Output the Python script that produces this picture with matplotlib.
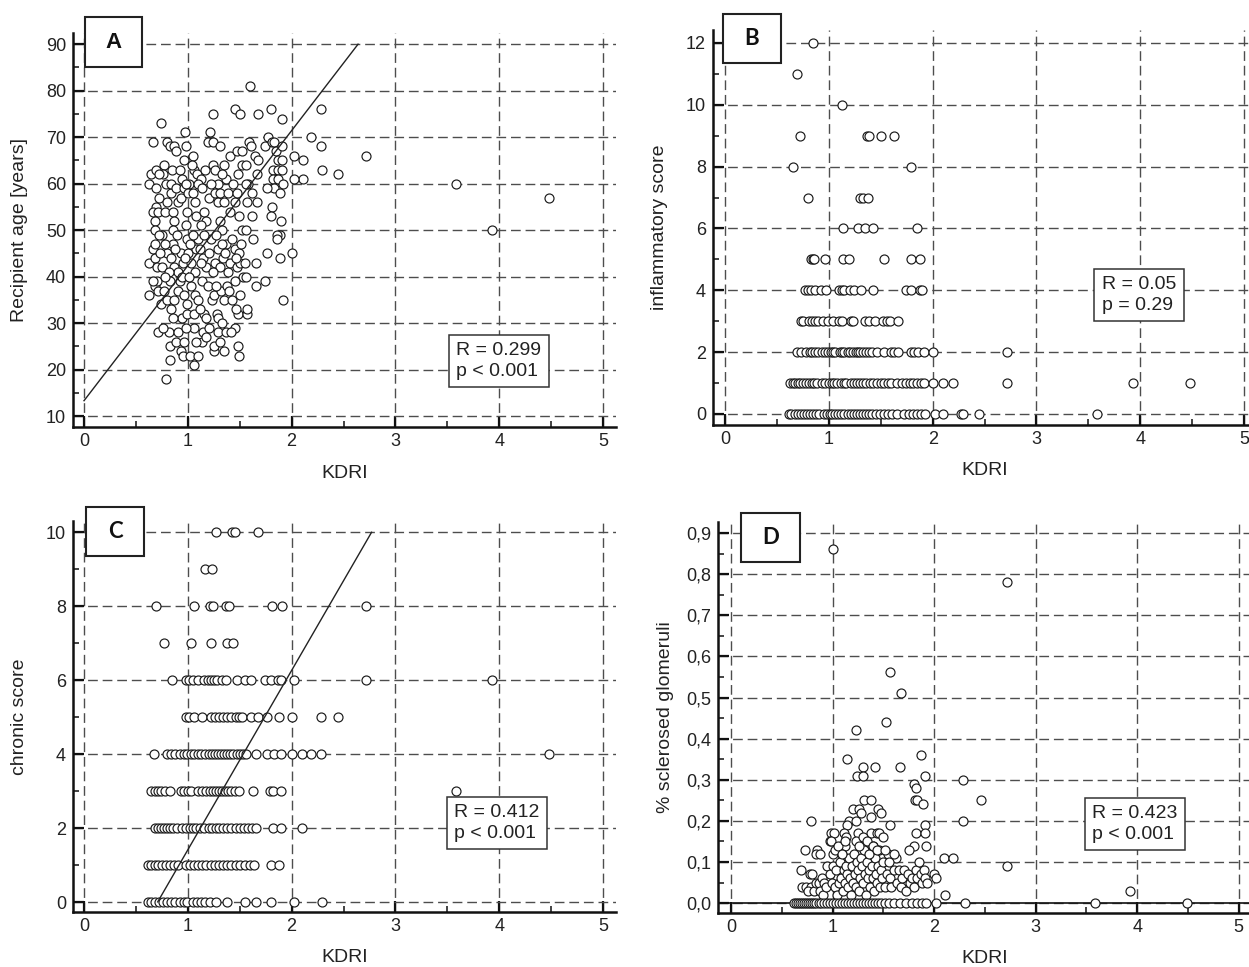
import matplotlib
matplotlib.use("Agg")
import matplotlib.pyplot as plt
from matplotlib.patches import Rectangle
from matplotlib.ticker import MultipleLocator, FuncFormatter

plt.rcParams["font.family"] = ["Liberation Sans", "DejaVu Sans"]

FIG_W, FIG_H = 1249, 967

# ==========================
# Data
# ==========================

# Panel A: KDRI vs recipient age, grouped by age band
a_outer = [(1.60, 81), (1.45, 76), (1.50, 75), (1.68, 75), (1.80, 76), (1.91, 74),
           (1.24, 75), (2.28, 76), (0.74, 73), (0.97, 71), (1.21, 71), (2.19, 70),
           (2.28, 68), (2.72, 66), (2.02, 66), (2.11, 65), (2.29, 63), (2.45, 62),
           (2.11, 61), (2.02, 61), (3.58, 60), (4.48, 57), (3.93, 50), (2.00, 45),
           (1.92, 35)]
a_band_60s = [(0.63, 60), (0.65, 62), (0.66, 69), (0.69, 63), (0.77, 64), (0.76, 62),
              (0.80, 69), (0.83, 68), (0.87, 68), (0.89, 67), (0.85, 63), (0.92, 63),
              (0.96, 65), (0.98, 68), (1.05, 66), (1.06, 63), (1.04, 64), (1.19, 69),
              (1.24, 69), (1.31, 68), (1.24, 64), (1.26, 63), (1.35, 64), (1.37, 61),
              (1.41, 66), (1.47, 67), (1.52, 67), (1.59, 69), (1.61, 68), (1.52, 64),
              (1.56, 64), (1.65, 66), (1.68, 65), (1.67, 62), (1.74, 68), (1.77, 70),
              (1.81, 69), (1.83, 69), (1.85, 67), (1.87, 65), (1.91, 65), (1.91, 68),
              (1.82, 63), (1.87, 63), (1.91, 63), (1.82, 61), (1.87, 61), (1.92, 60),
              (1.83, 59), (1.76, 59), (1.89, 58), (0.72, 62), (0.79, 60), (0.94, 61),
              (1.01, 60), (1.09, 62), (1.13, 61), (1.17, 63), (1.29, 60), (1.33, 62),
              (1.44, 60), (1.48, 62), (1.58, 60)]
a_band_50s = [(0.69, 59), (0.72, 57), (0.69, 55), (0.66, 54), (0.71, 54), (0.68, 52),
              (0.68, 50), (0.75, 49), (0.78, 54), (0.80, 56), (0.84, 58), (0.84, 60),
              (0.89, 59), (0.86, 54), (0.87, 52), (0.86, 50), (0.91, 56), (0.93, 57),
              (0.96, 59), (0.98, 60), (0.99, 54), (0.98, 51), (1.00, 58), (1.05, 58),
              (1.07, 56), (1.08, 53), (1.10, 60), (1.14, 59), (1.16, 54), (1.18, 52),
              (1.13, 51), (1.20, 57), (1.22, 60), (1.26, 58), (1.29, 56), (1.31, 52),
              (1.33, 50), (1.31, 58), (1.35, 56), (1.39, 58), (1.41, 54), (1.45, 56),
              (1.47, 58), (1.49, 53), (1.52, 50), (1.56, 50), (1.56, 60), (1.57, 56),
              (1.62, 58), (1.67, 56), (1.62, 53), (1.63, 48), (1.81, 55), (1.80, 53),
              (1.90, 52), (1.89, 49), (1.86, 49), (1.86, 48)]
a_band_40s = [(0.63, 43), (0.66, 46), (0.68, 47), (0.68, 44), (0.70, 42), (0.75, 42),
              (0.80, 45), (0.84, 44), (0.86, 47), (0.87, 42), (0.91, 41), (0.95, 43),
              (0.93, 45), (0.99, 48), (1.00, 45), (1.03, 43), (1.07, 41), (1.08, 46),
              (1.10, 48), (1.15, 44), (1.18, 42), (1.20, 45), (1.22, 48), (1.26, 43),
              (1.29, 46), (1.31, 42), (1.34, 44), (1.37, 47), (1.39, 41), (1.41, 43),
              (1.45, 46), (1.47, 42), (1.50, 43), (1.49, 45), (1.53, 40), (1.56, 40),
              (1.66, 43), (1.76, 45), (1.89, 44), (0.72, 49), (0.78, 47), (0.82, 41),
              (0.90, 49), (0.97, 44), (1.02, 47), (1.05, 49), (1.12, 46), (1.16, 49),
              (1.24, 41), (1.27, 49), (1.33, 47), (1.36, 45), (1.43, 48), (1.46, 44),
              (1.51, 47), (1.55, 43), (0.73, 45), (0.88, 46), (1.13, 43)]
a_band_30s = [(0.63, 36), (0.68, 38), (0.70, 39), (0.71, 37), (0.74, 34), (0.77, 37),
              (0.80, 35), (0.83, 39), (0.84, 33), (0.87, 35), (0.91, 37), (0.92, 39),
              (0.94, 31), (0.96, 36), (0.99, 34), (0.99, 32), (1.03, 38), (1.06, 32),
              (1.07, 36), (1.10, 35), (1.14, 39), (1.16, 32), (1.18, 31), (1.23, 35),
              (1.25, 36), (1.28, 32), (1.29, 31), (1.32, 37), (1.33, 30), (1.35, 35),
              (1.38, 38), (1.43, 35), (1.45, 39), (1.48, 32), (1.50, 36), (1.57, 32),
              (1.57, 33), (1.66, 38), (1.74, 39), (0.66, 39), (0.78, 40), (0.94, 40),
              (1.01, 40), (1.19, 38), (1.27, 38), (1.40, 37), (1.46, 33), (1.12, 33),
              (0.86, 31)]
a_band_low = [(0.71, 28), (0.82, 28), (0.83, 25), (0.89, 26), (0.91, 28), (0.93, 24),
              (0.95, 23), (0.96, 26), (1.02, 23), (1.06, 21), (1.10, 23), (1.06, 29),
              (1.14, 26), (1.15, 28), (1.20, 29), (1.25, 24), (1.25, 25), (1.29, 28),
              (1.35, 24), (1.37, 28), (1.45, 29), (1.48, 25), (1.49, 23), (0.83, 22),
              (0.79, 18), (0.76, 29), (0.98, 29), (1.18, 27), (1.31, 26), (1.42, 28),
              (1.08, 26)]
a_fit = {"intercept": 13.3, "slope": 29.05, "x_end": 2.64}

# Panel B: inflammatory score (level -> KDRI values)
b_rows = {
    12: [0.85],
    11: [0.69],
    10: [1.13],
    9: [0.72, 1.37, 1.39, 1.50, 1.63],
    8: [0.65, 1.79],
    7: [0.80, 1.30, 1.33, 1.38],
    6: [1.14, 1.28, 1.35, 1.43, 1.85],
    5: [0.83, 0.85, 0.86, 0.96, 1.14, 1.19, 1.53, 1.79, 1.88],
    4: [0.77, 0.80, 0.83, 0.87, 0.92, 0.97, 1.10, 1.13, 1.15, 1.20, 1.24, 1.31,
        1.43, 1.74, 1.79, 1.88, 1.90],
    3: [0.73, 0.75, 0.81, 0.84, 0.87, 0.90, 0.94, 0.99, 1.04, 1.10, 1.13, 1.21,
        1.23, 1.35, 1.39, 1.44, 1.52, 1.56, 1.59, 1.67],
    2: [0.69, 0.73, 0.78, 0.82, 0.84, 0.87, 0.90, 0.93, 0.96, 0.99, 1.02, 1.04,
        1.06, 1.11, 1.13, 1.15, 1.18, 1.20, 1.23, 1.26, 1.28, 1.30, 1.33, 1.36,
        1.39, 1.42, 1.46, 1.53, 1.60, 1.63, 1.67, 1.79, 1.82, 1.86, 1.92, 2.00, 2.72],
    1: [0.63, 0.65, 0.67, 0.70, 0.72, 0.75, 0.78, 0.81, 0.84, 0.86, 0.89, 0.93,
        0.96, 1.00, 1.03, 1.05, 1.08, 1.12, 1.15, 1.17, 1.21, 1.24, 1.27, 1.30,
        1.33, 1.36, 1.40, 1.43, 1.46, 1.50, 1.53, 1.57, 1.60, 1.66, 1.70, 1.74,
        1.78, 1.81, 1.85, 1.89, 1.92, 2.00, 2.10, 2.20, 2.72, 3.93, 4.48],
    0: [0.62, 0.64, 0.67, 0.70, 0.73, 0.76, 0.79, 0.82, 0.85, 0.88, 0.91, 0.95,
        0.98, 1.01, 1.03, 1.06, 1.09, 1.12, 1.15, 1.18, 1.21, 1.24, 1.27, 1.30,
        1.33, 1.36, 1.39, 1.42, 1.45, 1.49, 1.53, 1.57, 1.61, 1.66, 1.72, 1.77,
        1.81, 1.85, 1.89, 1.93, 2.02, 2.10, 2.27, 2.29, 2.45, 3.58],
}

# Panel C: chronic score (level -> KDRI values)
c_rows = {
    10: [1.27, 1.43, 1.45, 1.68],
    9: [1.17, 1.23],
    8: [0.69, 1.06, 1.21, 1.24, 1.37, 1.40, 1.81, 1.91, 2.72],
    7: [0.77, 1.03, 1.22, 1.38, 1.44],
    6: [0.85, 0.98, 1.01, 1.05, 1.10, 1.16, 1.19, 1.22, 1.25, 1.28, 1.33, 1.37,
        1.47, 1.55, 1.61, 1.74, 1.80, 1.87, 1.90, 2.02, 2.72, 3.93],
    5: [0.98, 1.01, 1.06, 1.14, 1.22, 1.26, 1.30, 1.34, 1.38, 1.42, 1.46, 1.49,
        1.52, 1.61, 1.68, 1.76, 1.88, 2.00, 2.28, 2.45],
    4: [0.67, 0.80, 0.84, 0.88, 0.92, 0.96, 0.99, 1.03, 1.06, 1.10, 1.13, 1.17,
        1.20, 1.23, 1.26, 1.29, 1.32, 1.35, 1.38, 1.41, 1.44, 1.47, 1.50, 1.53,
        1.56, 1.66, 1.76, 1.83, 1.90, 2.00, 2.10, 2.19, 2.28, 4.48],
    3: [0.65, 0.68, 0.71, 0.74, 0.78, 0.83, 0.93, 0.96, 1.00, 1.03, 1.10, 1.14,
        1.18, 1.21, 1.24, 1.27, 1.30, 1.33, 1.36, 1.39, 1.42, 1.45, 1.49, 1.63,
        1.79, 1.82, 1.90, 3.58],
    2: [0.68, 0.71, 0.74, 0.77, 0.80, 0.83, 0.86, 0.90, 0.94, 0.98, 1.02, 1.05,
        1.08, 1.12, 1.16, 1.20, 1.23, 1.27, 1.30, 1.34, 1.38, 1.42, 1.46, 1.50,
        1.54, 1.58, 1.62, 1.66, 1.82, 1.90, 2.10],
    1: [0.62, 0.65, 0.68, 0.71, 0.75, 0.79, 0.83, 0.87, 0.91, 0.98, 1.02, 1.06,
        1.10, 1.14, 1.18, 1.22, 1.26, 1.30, 1.34, 1.38, 1.42, 1.46, 1.50, 1.55,
        1.60, 1.64, 1.80, 1.88],
    0: [0.62, 0.65, 0.68, 0.72, 0.76, 0.80, 0.84, 0.88, 0.92, 0.96, 0.99, 1.05,
        1.09, 1.13, 1.17, 1.21, 1.27, 1.38, 1.55, 1.66, 1.80, 2.02, 2.29],
}
c_fit = {"intercept": -3.44, "slope": 4.85, "x_start": 0.71, "x_end": 2.77}

# Panel D: fraction of sclerosed glomeruli
d_upper = [(1.00, 0.862), (2.72, 0.78), (1.57, 0.561), (1.67, 0.512), (1.53, 0.441),
           (1.23, 0.421), (1.87, 0.36), (1.14, 0.35), (1.30, 0.33), (1.42, 0.33),
           (1.66, 0.33), (1.24, 0.31), (1.30, 0.31), (1.91, 0.31), (2.28, 0.30),
           (1.80, 0.29), (1.82, 0.28), (2.46, 0.25), (1.31, 0.25), (1.38, 0.25),
           (1.81, 0.25), (1.83, 0.25), (1.89, 0.24), (1.20, 0.23), (1.26, 0.23),
           (1.45, 0.23), (1.28, 0.22), (1.48, 0.22), (1.38, 0.21), (0.79, 0.20),
           (1.16, 0.20), (1.23, 0.20), (2.28, 0.20), (1.57, 0.19), (1.91, 0.19),
           (1.14, 0.19), (0.98, 0.17), (1.01, 0.17), (1.11, 0.17), (1.25, 0.17),
           (1.38, 0.17), (1.44, 0.17), (1.82, 0.17), (1.91, 0.17), (1.13, 0.16),
           (0.97, 0.15), (1.23, 0.15), (1.08, 0.14), (1.12, 0.14), (1.29, 0.14),
           (1.40, 0.14), (1.80, 0.14), (1.92, 0.14), (0.73, 0.13), (0.85, 0.13),
           (1.75, 0.13), (0.84, 0.12), (0.88, 0.12), (1.00, 0.12), (1.09, 0.12),
           (1.36, 0.12), (2.10, 0.11), (2.19, 0.11), (2.72, 0.09), (2.00, 0.07),
           (2.02, 0.06), (3.93, 0.03), (2.11, 0.02)]
d_cluster = [(0.69, 0.08), (0.78, 0.07), (0.80, 0.07), (0.70, 0.04), (0.74, 0.04),
             (0.79, 0.04), (0.76, 0.03), (0.82, 0.03), (0.84, 0.05), (0.87, 0.05),
             (0.90, 0.06), (0.92, 0.05), (0.88, 0.03), (0.91, 0.02), (0.95, 0.09),
             (0.94, 0.04), (0.97, 0.07), (0.99, 0.05), (1.00, 0.09), (1.02, 0.04),
             (1.03, 0.08), (1.04, 0.02), (1.06, 0.05), (1.07, 0.10), (1.08, 0.06),
             (1.10, 0.03), (1.11, 0.08), (1.12, 0.05), (1.13, 0.09), (1.14, 0.07),
             (1.15, 0.04), (1.16, 0.11), (1.17, 0.06), (1.18, 0.02), (1.19, 0.09),
             (1.20, 0.05), (1.21, 0.12), (1.22, 0.07), (1.23, 0.04), (1.24, 0.10),
             (1.25, 0.08), (1.26, 0.03), (1.27, 0.06), (1.28, 0.11), (1.29, 0.09),
             (1.30, 0.05), (1.31, 0.13), (1.32, 0.07), (1.33, 0.02), (1.34, 0.10),
             (1.35, 0.06), (1.36, 0.08), (1.37, 0.04), (1.38, 0.12), (1.39, 0.09),
             (1.40, 0.06), (1.41, 0.03), (1.42, 0.11), (1.43, 0.07), (1.44, 0.05),
             (1.45, 0.09), (1.46, 0.13), (1.47, 0.04), (1.48, 0.08), (1.49, 0.06),
             (1.50, 0.10), (1.52, 0.04), (1.54, 0.07), (1.55, 0.12), (1.57, 0.06),
             (1.58, 0.04), (1.60, 0.08), (1.62, 0.11), (1.63, 0.05), (1.65, 0.08),
             (1.67, 0.04), (1.68, 0.06), (1.70, 0.08), (1.72, 0.03), (1.74, 0.07),
             (1.76, 0.05), (1.78, 0.06), (1.80, 0.04), (1.82, 0.08), (1.83, 0.06),
             (1.85, 0.10), (1.87, 0.07), (1.88, 0.05), (1.90, 0.08), (1.91, 0.06),
             (1.93, 0.05), (0.98, 0.15), (1.02, 0.13), (1.05, 0.14), (1.09, 0.12),
             (1.12, 0.15), (1.26, 0.14), (1.30, 0.16), (1.34, 0.15), (1.36, 0.12),
             (1.40, 0.14), (1.44, 0.13), (1.46, 0.17), (1.50, 0.16), (1.52, 0.13),
             (1.56, 0.10), (1.60, 0.12)]
d_zero_kdri = [0.62, 0.64, 0.66, 0.68, 0.70, 0.72, 0.74, 0.76, 0.78, 0.80, 0.82,
               0.84, 0.87, 0.89, 0.92, 0.95, 0.97, 1.00, 1.03, 1.06, 1.09, 1.12,
               1.15, 1.18, 1.21, 1.24, 1.27, 1.30, 1.33, 1.36, 1.39, 1.42, 1.45,
               1.48, 1.52, 1.56, 1.60, 1.66, 1.72, 1.78, 1.83, 1.88, 1.92, 2.02,
               2.30, 3.58, 4.49]

# correlation annotations
stats = {
    "A": "R = 0.299\np < 0.001",
    "B": "R = 0.05\np = 0.29",
    "C": "R = 0.412\np < 0.001",
    "D": "R = 0.423\np < 0.001",
}
y_labels = {
    "A": "Recipient age [years]",
    "B": "inflammatory score",
    "C": "chronic score",
    "D": "% sclerosed glomeruli",
}


# ==========================
# Helpers
# ==========================
def px_rect(left, top, right, bottom):
    return [left / FIG_W, 1 - bottom / FIG_H, (right - left) / FIG_W, (bottom - top) / FIG_H]


def rows_to_xy(rows):
    xs, ys = [], []
    for level, values in rows.items():
        xs.extend(values)
        ys.extend([level] * len(values))
    return xs, ys


def pairs_to_xy(*groups):
    xs, ys = [], []
    for group in groups:
        for x, y in group:
            xs.append(x)
            ys.append(y)
    return xs, ys


def style_axes(ax, xlim, ylim, y_major, y_minor, ylabel, fmt=None):
    ax.set_xlim(*xlim)
    ax.set_ylim(*ylim)
    ax.xaxis.set_major_locator(MultipleLocator(1))
    ax.xaxis.set_minor_locator(MultipleLocator(0.5))
    ax.yaxis.set_major_locator(MultipleLocator(y_major))
    ax.yaxis.set_minor_locator(MultipleLocator(y_minor))
    if fmt is not None:
        ax.yaxis.set_major_formatter(fmt)

    for side in ["top", "right"]:
        ax.spines[side].set_visible(False)
    for side in ["left", "bottom"]:
        ax.spines[side].set_linewidth(1.8)
        ax.spines[side].set_color("#111111")

    ax.tick_params(which="major", direction="in", length=8, width=1.6,
                   labelsize=13, colors="#111111", labelcolor="#222222")
    ax.tick_params(which="minor", direction="in", length=4, width=1.1, colors="#111111")
    ax.tick_params(axis="x", which="major", pad=4.5)
    ax.tick_params(axis="y", which="major", pad=5)

    ax.grid(True, which="major", linestyle=(0, (7, 3.5)), color="#4d4d4d", linewidth=1.0)
    ax.set_axisbelow(True)

    ax.set_xlabel("KDRI", fontsize=14, color="#222222")
    ax.set_ylabel(ylabel, fontsize=14, color="#222222")
    ax.xaxis.set_label_coords(0.5, -0.095)
    ax.yaxis.set_label_coords(-0.083, 0.5)


def scatter(ax, xs, ys):
    ax.scatter(xs, ys, s=42, facecolors="white", edgecolors="#1a1a1a",
               linewidths=0.85, zorder=3, clip_on=False)


def letter_box(fig, letter, rect, family):
    left, top, right, bottom = rect
    fig.add_artist(Rectangle((left / FIG_W, 1 - bottom / FIG_H),
                             (right - left) / FIG_W, (bottom - top) / FIG_H,
                             transform=fig.transFigure, facecolor="white",
                             edgecolor="#222222", linewidth=1.5, zorder=10))
    fig.text((left + right) / 2 / FIG_W, 1 - (top + bottom) / 2 / FIG_H, letter,
             ha="center", va="center", fontsize=16, fontweight="bold",
             family=family, color="#111111", zorder=11)


def stat_box(fig, text, cx, cy):
    fig.text(cx / FIG_W, 1 - cy / FIG_H, text, ha="center", va="center",
             multialignment="left", fontsize=14, color="#222222", linespacing=1.25,
             zorder=11,
             bbox=dict(boxstyle="square,pad=0.4", facecolor="white",
                       edgecolor="#333333", linewidth=1.1))


# ==========================
# Figure
# ==========================
fig = plt.figure(figsize=(FIG_W / 100, FIG_H / 100), dpi=100)

ax_a = fig.add_axes(px_rect(73, 33, 615.5, 427.2))
ax_b = fig.add_axes(px_rect(713, 30, 1256.5, 424.8))
ax_c = fig.add_axes(px_rect(73, 521, 615.5, 912))
ax_d = fig.add_axes(px_rect(718, 522, 1251, 913))

# Panel A
style_axes(ax_a, (-0.106, 5.12), (7.6, 92.4), 10, 5, y_labels["A"])
a_x, a_y = pairs_to_xy(a_outer, a_band_60s, a_band_50s, a_band_40s, a_band_30s, a_band_low)
scatter(ax_a, a_x, a_y)
fit_x = [0, a_fit["x_end"]]
ax_a.plot(fit_x, [a_fit["intercept"] + a_fit["slope"] * v for v in fit_x],
          color="#222222", linewidth=1.0, zorder=4)

# Panel B
style_axes(ax_b, (-0.116, 5.12), (-0.35, 12.42), 2, 1, y_labels["B"])
b_x, b_y = rows_to_xy(b_rows)
scatter(ax_b, b_x, b_y)

# Panel C
style_axes(ax_c, (-0.106, 5.12), (-0.27, 10.3), 2, 1, y_labels["C"])
c_x, c_y = rows_to_xy(c_rows)
scatter(ax_c, c_x, c_y)
fit_x = [c_fit["x_start"], c_fit["x_end"]]
ax_c.plot(fit_x, [c_fit["intercept"] + c_fit["slope"] * v for v in fit_x],
          color="#222222", linewidth=1.0, zorder=4)

# Panel D
comma_fmt = FuncFormatter(lambda v, _: f"{v:.1f}".replace(".", ","))
style_axes(ax_d, (-0.128, 5.12), (-0.024, 0.927), 0.1, 0.05, y_labels["D"], comma_fmt)
d_x, d_y = pairs_to_xy(d_upper, d_cluster)
d_x += d_zero_kdri
d_y += [0.0] * len(d_zero_kdri)
scatter(ax_d, d_x, d_y)
ax_d.axhline(0, color="#111111", linewidth=1.2, zorder=2)

# panel letters and statistics
letter_box(fig, "A", (85, 17, 142, 67), ["Liberation Sans"])
letter_box(fig, "B", (723, 14, 781, 63), ["Lato", "DejaVu Sans"])
letter_box(fig, "C", (86, 507, 144, 556), ["Lato", "DejaVu Sans"])
letter_box(fig, "D", (741, 513, 800, 562), ["Lato", "DejaVu Sans"])

stat_box(fig, stats["A"], 499, 361)
stat_box(fig, stats["B"], 1139, 295)
stat_box(fig, stats["C"], 497, 823)
stat_box(fig, stats["D"], 1135, 824)

fig.savefig("out.png", dpi=100)
